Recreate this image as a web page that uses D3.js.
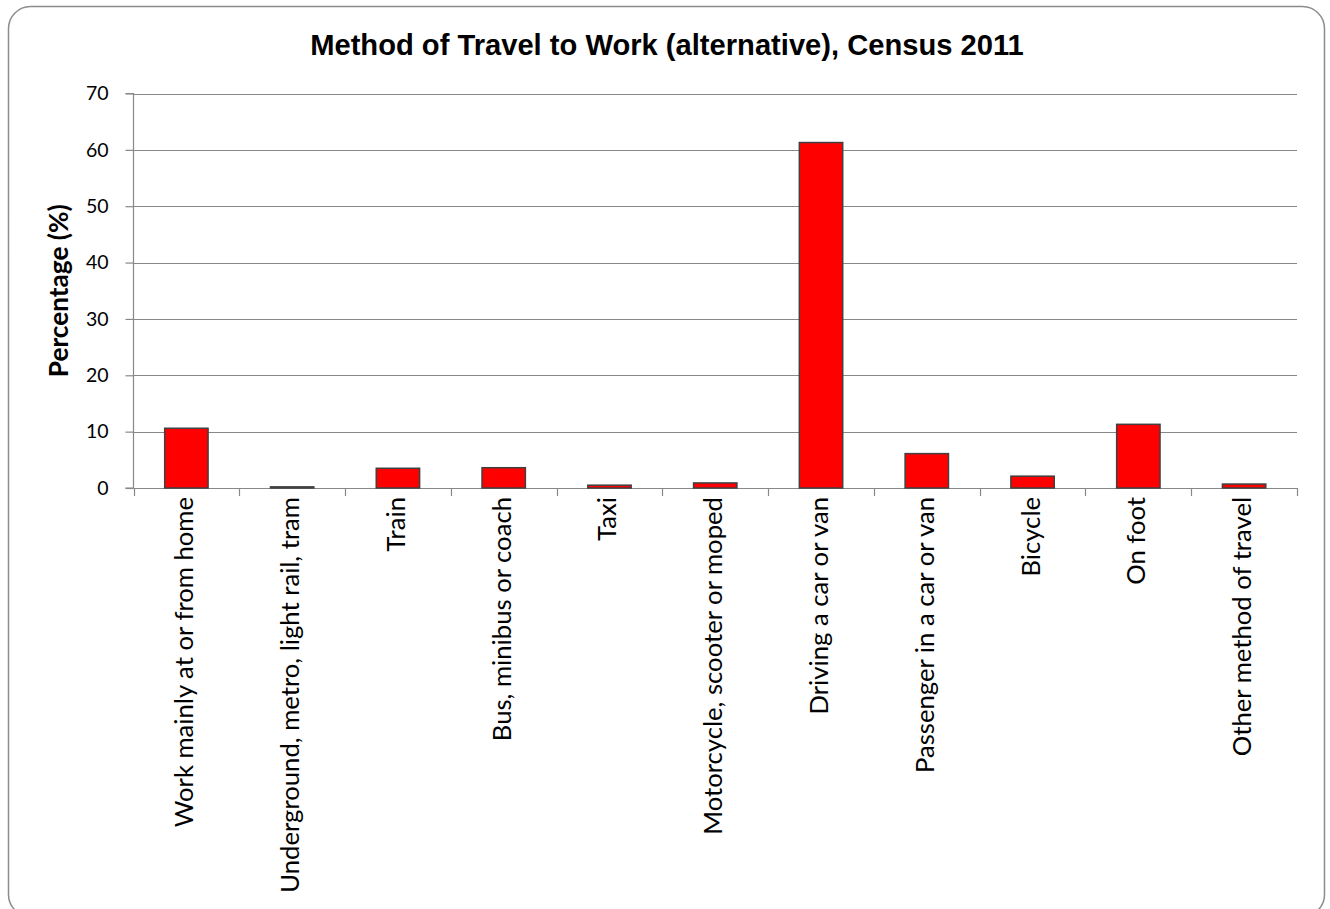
<!DOCTYPE html>
<html><head><meta charset="utf-8">
<script src="https://cdn.jsdelivr.net/npm/d3@7"></script>
<style>body{margin:0;background:#fff}svg{display:block}</style>
</head><body>
<script>
const titleText = "Method of Travel to Work (alternative), Census 2011";
const yLabel = "Percentage (%)";
const categories = ["Work mainly at or from home","Underground, metro, light rail, tram","Train","Bus, minibus or coach","Taxi","Motorcycle, scooter or moped","Driving a car or van","Passenger in a car or van","Bicycle","On foot","Other method of travel"];
const values = [10.6, 0.2, 3.5, 3.6, 0.5, 0.9, 61.3, 6.1, 2.1, 11.3, 0.7];
const yTicks = [0,10,20,30,40,50,60,70];

const W=1330,H=909;
const svg=d3.select("body").append("svg").attr("width",W).attr("height",H);
svg.append("rect").attr("x",8.5).attr("y",6.5).attr("width",1316).attr("height",910).attr("rx",22)
  .attr("fill","#fff").attr("stroke","#8c8c8c").attr("stroke-width",1.5);

const m={l:133.5,r:1297,t:93.5,b:488};
const x=d3.scaleBand().domain(categories).range([m.l,m.r]).paddingInner(0.59).paddingOuter(0.295);
const y=d3.scaleLinear().domain([0,70]).range([m.b,m.t]);

// gridlines
svg.append("g").selectAll("line").data(yTicks.filter(d=>d>0)).join("line")
  .attr("x1",m.l).attr("x2",m.r).attr("y1",d=>Math.round(y(d))+0.5).attr("y2",d=>Math.round(y(d))+0.5)
  .attr("stroke","#888").attr("stroke-width",1.2);

// y axis
const ya=svg.append("g").attr("transform",`translate(${m.l},0)`)
  .call(d3.axisLeft(y).tickValues(yTicks).tickSize(8).tickPadding(17));
ya.selectAll("path,line").attr("stroke","#888").attr("stroke-width",1.2);
ya.select(".domain").attr("d",`M-8,${y(0)}H0V${y(70)}H-8`);
ya.selectAll("text").attr("font-family","Lato, 'Open Sans', sans-serif").attr("font-size",19.5).attr("fill","#000");

// x axis
const bounds=d3.range(categories.length+1).map(i=>m.l+i*(m.r-m.l)/categories.length);
svg.append("line").attr("x1",m.l).attr("x2",m.r).attr("y1",m.b+0.5).attr("y2",m.b+0.5).attr("stroke","#888").attr("stroke-width",1.2);
svg.append("g").selectAll("line").data(bounds).join("line")
  .attr("x1",d=>Math.round(d)+0.5).attr("x2",d=>Math.round(d)+0.5).attr("y1",m.b).attr("y2",m.b+8)
  .attr("stroke","#888").attr("stroke-width",1.2);

// bars
svg.append("g").selectAll("rect").data(values).join("rect")
  .attr("x",(d,i)=>x(categories[i])).attr("width",x.bandwidth())
  .attr("y",d=>y(d)).attr("height",d=>y(0)-y(d))
  .attr("fill","#ff0000").attr("stroke","#404040").attr("stroke-width",1.5);

// category labels
const labs=svg.append("g").selectAll("text").data(categories).join("text")
  .attr("transform",d=>`translate(${x(d)+x.bandwidth()/2+7},497) rotate(-90)`)
  .attr("text-anchor","end").attr("font-family","Lato, 'Open Sans', sans-serif").attr("fill","#000")
  .attr("font-size",19).text(d=>d);
const n1=labs.nodes()[1]; const len=n1.getComputedTextLength();
labs.attr("font-size",19*396/len);

// title
const t=svg.append("text").attr("x",667).attr("y",55).attr("text-anchor","middle")
  .attr("font-family","'Liberation Sans', Arial, sans-serif").attr("font-weight","bold").attr("font-size",22).text(titleText);
t.attr("font-size",22*714/t.node().getComputedTextLength());

// y label
const yl=svg.append("text").attr("transform",`translate(68,${(m.t+m.b)/2}) rotate(-90)`).attr("text-anchor","middle")
  .attr("font-family","Lato, 'Open Sans', sans-serif").attr("font-weight","bold").attr("font-size",18).text(yLabel);
yl.attr("font-size",18*173/yl.node().getComputedTextLength());
</script>
</body></html>
